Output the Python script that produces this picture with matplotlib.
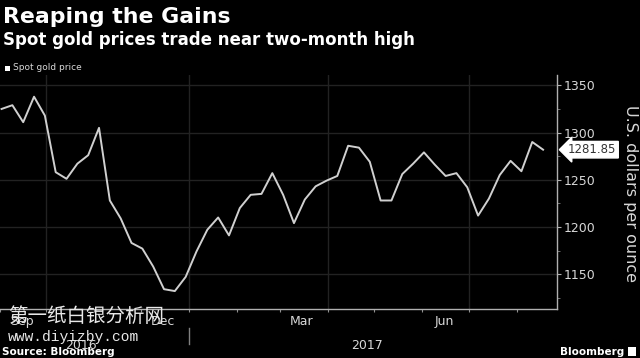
import matplotlib
matplotlib.use("Agg")
import matplotlib.pyplot as plt
import matplotlib.dates as mdates
import matplotlib.transforms as mtransforms
from matplotlib.patches import FancyBboxPatch
import pandas as pd

# weekly spot gold price
dates = pd.date_range("2016-09-02", periods=51, freq="7D")
prices = [1325, 1329, 1311, 1338, 1318, 1258, 1251, 1267, 1276, 1305,
          1228, 1209, 1183, 1177, 1158, 1134, 1132, 1147, 1174, 1197,
          1210, 1191, 1220, 1234, 1235, 1257, 1234, 1204, 1229, 1243,
          1249, 1254, 1286, 1284, 1269, 1228, 1228, 1256, 1267, 1279,
          1266, 1254, 1257, 1242, 1212, 1230, 1255, 1270, 1259, 1290,
          1281.85]
month_labels = ["Sep", "Dec", "Mar", "Jun"]
month_label_dates = pd.to_datetime(["2016-09-15", "2016-12-15", "2017-03-15", "2017-06-15"])
year_labels = ["2016", "2017"]
year_label_dates = pd.to_datetime(["2016-10-23", "2017-04-26"])
yticks = [1150, 1200, 1250, 1300, 1350]

BG = "black"
FG = "#d8d8d8"
GRID = "#222222"

fig = plt.figure(figsize=(6.4, 3.58), dpi=100, facecolor=BG)
ax = fig.add_axes([0.0, 49 / 358, 557 / 640, 234 / 358])
ax.set_facecolor(BG)

ax.plot(dates, prices, color="#d0d0d0", lw=1.4, zorder=3)

ax.set_xlim(pd.Timestamp("2016-09-01"), pd.Timestamp("2017-08-27"))
ax.set_ylim(1113, 1361)

# grid: horizontal at major y, vertical at quarter starts
for v in yticks:
    ax.axhline(v, color=GRID, lw=1, zorder=1)
for d in pd.to_datetime(["2016-10-01", "2017-01-01", "2017-04-01", "2017-07-01"]):
    ax.axvline(d, color=GRID, lw=1, zorder=1)

for s in ["left", "top"]:
    ax.spines[s].set_visible(False)
for s in ["right", "bottom"]:
    ax.spines[s].set_color("#b0b0b0")
    ax.spines[s].set_linewidth(1)

ax.yaxis.tick_right()
ax.set_yticks(yticks)
ax.set_yticks([1125, 1175, 1225, 1275, 1325], minor=True)
ax.tick_params(axis="y", which="major", colors="#b0b0b0", labelcolor=FG,
               labelsize=9, length=3, pad=2)
ax.tick_params(axis="y", which="minor", colors="#808080", length=2)

ax.xaxis.set_major_locator(mdates.MonthLocator())
ax.xaxis.set_major_formatter(plt.NullFormatter())
ax.set_xticks(month_label_dates, minor=True)
ax.set_xticklabels(month_labels, minor=True)
ax.tick_params(axis="x", which="major", colors="#909090", length=2)
ax.tick_params(axis="x", which="minor", length=0, labelcolor=FG, labelsize=9, pad=4)

trans = mtransforms.blended_transform_factory(ax.transData, ax.transAxes)
for lab, d in zip(year_labels, year_label_dates):
    ax.text(d, -0.155, lab, transform=trans, ha="center", va="center",
            color=FG, fontsize=9)
ax.plot([pd.Timestamp("2017-01-01")] * 2, [-0.08, -0.15], transform=trans,
        color="#808080", lw=1, clip_on=False)

ax.text(1.132, 0.495, "U.S. dollars per ounce", transform=ax.transAxes, rotation=270,
        ha="center", va="center", color=FG, fontsize=11.5)

# last value callout
trans_y = mtransforms.blended_transform_factory(ax.transAxes, ax.transData)
ax.text(1.02, prices[-1], f"{prices[-1]:.2f}", transform=trans_y, ha="left", va="center",
        color="#333333", fontsize=8.5, zorder=5,
        bbox=dict(boxstyle="larrow,pad=0.15", fc="white", ec="white"))

# titles
fig.text(3 / 640, 1 - 17 / 358, "Reaping the Gains", color="white", fontsize=15.8,
         fontweight="bold", ha="left", va="center")
fig.text(3 / 640, 1 - 40 / 358, "Spot gold prices trade near two-month high", color="white",
         fontsize=12, fontweight="bold", ha="left", va="center")
fig.patches.append(FancyBboxPatch((5 / 640, 1 - 71 / 358), 5 / 640, 5 / 358,
                                  boxstyle="square,pad=0", fc="white", ec="none",
                                  transform=fig.transFigure, figure=fig))
fig.text(13 / 640, 1 - 68 / 358, "Spot gold price", color=FG, fontsize=6.5,
         ha="left", va="center")

fig.text(2 / 640, 1 - 352 / 358, "Source: Bloomberg", color="white", fontsize=7.5,
         fontweight="bold", ha="left", va="center")
fig.text(624 / 640, 1 - 352 / 358, "Bloomberg", color="white", fontsize=7.5,
         fontweight="bold", ha="right", va="center")
fig.patches.append(FancyBboxPatch((628 / 640, 1 - 356 / 358), 8 / 640, 9 / 358,
                                  boxstyle="square,pad=0", fc="white", ec="none",
                                  transform=fig.transFigure, figure=fig))

# site watermark
fig.text(8 / 640, 1 - 316 / 358, "第一纸白银分析网", color="#e8e8e8", fontsize=14,
         family=["Noto Sans CJK SC", "DejaVu Sans"], ha="left", va="center")
fig.text(8 / 640, 1 - 337 / 358, "www.diyizby.com", color="#e8e8e8", fontsize=10.5,
         family="Liberation Mono", ha="left", va="center")

fig.savefig("out.png", dpi=100, facecolor=BG)
